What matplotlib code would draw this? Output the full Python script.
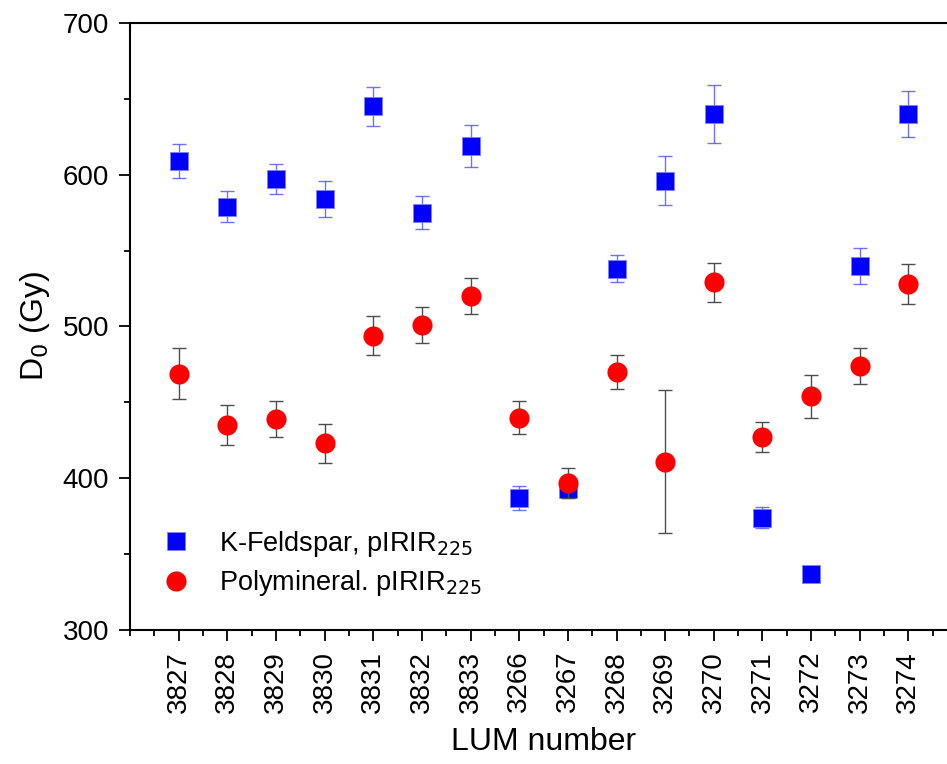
import numpy as np
import matplotlib.pyplot as plt
from matplotlib.ticker import MultipleLocator

plt.rcParams['font.family'] = ['Liberation Sans', 'DejaVu Sans']

lum = ['3827', '3828', '3829', '3830', '3831', '3832', '3833', '3266',
       '3267', '3268', '3269', '3270', '3271', '3272', '3273', '3274']

# K-Feldspar pIRIR225
kf_d0 = [609, 579, 597, 584, 645, 575, 619, 387, 393, 538, 596, 640, 374, 337, 540, 640]
kf_err = [11, 10, 10, 12, 13, 11, 14, 8, 6, 9, 16, 19, 7, 0, 12, 15]

# Polymineral pIRIR225
pm_d0 = [469, 435, 439, 423, 494, 501, 520, 440, 397, 470, 411, 529, 427, 454, 474, 528]
pm_err = [17, 13, 12, 13, 13, 12, 12, 11, 10, 11, 47, 13, 10, 14, 12, 13]

x = np.arange(len(lum))

fig = plt.figure(figsize=(9.47, 7.64), dpi=100)
ax = fig.add_axes([0.1373, 0.1754, 0.8733, 0.7946])

ax.errorbar(x, kf_d0, yerr=kf_err, fmt='none', ecolor=(0.3, 0.3, 1.0, 0.8),
            elinewidth=1, capsize=4.7, capthick=1, zorder=2)
ax.plot(x, kf_d0, 's', color='blue', markersize=13, markeredgewidth=0.6,
        markeredgecolor=(0.5, 0.5, 1.0), zorder=3,
        label='K-Feldspar, pIRIR$_{225}$')

ax.errorbar(x, pm_d0, yerr=pm_err, fmt='none', ecolor=(0.3, 0.3, 0.3),
            elinewidth=1, capsize=4.7, capthick=1, zorder=4)
ax.plot(x, pm_d0, 'o', color='red', markersize=14.5, markeredgewidth=0,
        zorder=5, label='Polymineral. pIRIR$_{225}$')

ax.set_xlim(-1, 16)
ax.set_ylim(300, 700)
ax.set_xticks(x)
ax.set_xticklabels(lum, rotation=90)
ax.xaxis.set_minor_locator(MultipleLocator(0.5))
ax.yaxis.set_major_locator(MultipleLocator(100))
ax.yaxis.set_minor_locator(MultipleLocator(50))

ax.tick_params(axis='both', which='major', direction='out', length=8, width=1.3,
               labelsize=20, pad=7)
ax.tick_params(axis='both', which='minor', direction='out', length=4, width=1.3)
for s in ax.spines.values():
    s.set_linewidth(1.5)

ax.set_xlabel('LUM number', fontsize=23, labelpad=10)
ax.set_ylabel('D$_0$ (Gy)', fontsize=23, labelpad=8)

ax.legend(loc='lower left', bbox_to_anchor=(0.003, 0.008), frameon=False,
          fontsize=19.5, handletextpad=1.0, labelspacing=0.35, borderpad=0.5,
          handlelength=1.2)

fig.savefig('out.png', dpi=100)
